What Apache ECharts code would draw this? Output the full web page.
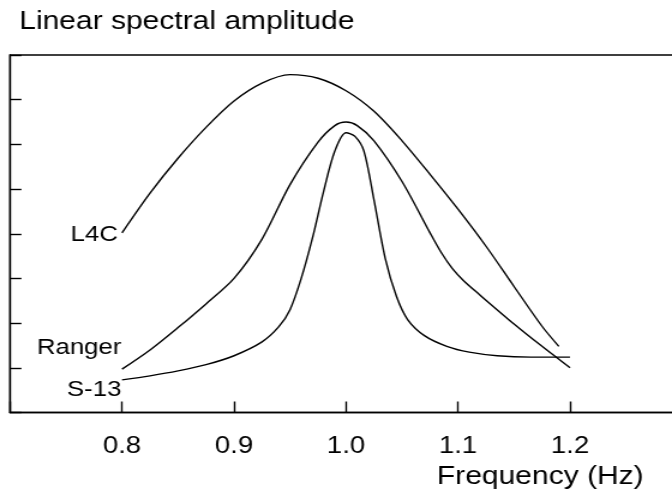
<!DOCTYPE html>
<html><head><meta charset="utf-8">
<script src="https://cdn.jsdelivr.net/npm/echarts@6/dist/echarts.min.js"></script>
<style>
html,body{margin:0;padding:0;background:#fff;overflow:hidden}
#wrap{width:672px;height:499px;overflow:hidden}
#c{width:560px;height:499px;transform:scaleX(1.2);transform-origin:0 0}
</style>
</head><body><div id="wrap"><div id="c"></div></div>
<script>
const xTicks = [0.7, 0.8, 0.9, 1.0, 1.1, 1.2, 1.3];
const seriesNames = ['L4C', 'Ranger', 'S-13'];
const l4cX = [0.800, 0.825, 0.850, 0.875, 0.900, 0.925, 0.950, 0.975, 1.000, 1.025, 1.050, 1.075, 1.100, 1.125, 1.150, 1.175, 1.190];
const l4cY = [4.02, 4.91, 5.69, 6.38, 6.97, 7.37, 7.56, 7.48, 7.20, 6.74, 6.08, 5.33, 4.55, 3.72, 2.82, 1.93, 1.48];
const rangerX = [0.800, 0.825, 0.850, 0.875, 0.900, 0.925, 0.950, 0.975, 0.990, 1.000, 1.010, 1.025, 1.050, 1.075, 1.085, 1.095, 1.105, 1.120, 1.150, 1.175, 1.200];
const rangerY = [0.97, 1.40, 1.90, 2.43, 3.00, 3.88, 5.10, 6.05, 6.42, 6.50, 6.42, 6.08, 5.17, 4.02, 3.58, 3.22, 2.95, 2.62, 1.98, 1.48, 1.00];
const s13X = [0.800, 0.825, 0.850, 0.875, 0.900, 0.925, 0.940, 0.950, 0.960, 0.970, 0.980, 0.990, 1.000, 1.008, 1.016, 1.025, 1.035, 1.045, 1.055, 1.070, 1.090, 1.110, 1.135, 1.165, 1.200];
const s13Y = [0.73, 0.82, 0.93, 1.07, 1.27, 1.58, 1.92, 2.30, 3.00, 3.90, 4.95, 5.85, 6.26, 6.18, 5.85, 4.75, 3.45, 2.60, 2.08, 1.72, 1.48, 1.35, 1.27, 1.24, 1.24];

const FONT = '"Liberation Sans", Arial, Helvetica, sans-serif';
function pts(xs, ys, name, offset, dist) {
  return xs.map((x, i) => {
    if (i === 0) return {value: [x, ys[i]], label: {show: true, position: 'left', distance: dist, offset: offset, formatter: name, color: '#000', fontSize: 21.5, fontFamily: FONT}};
    return [x, ys[i]];
  });
}
const chart = echarts.init(document.getElementById('c'));
const lineSeries = (name, data) => ({
  name: name, type: 'line', data: data, smooth: 0.3,
  showSymbol: true, showAllSymbol: true, symbol: 'circle', symbolSize: 1,
  itemStyle: {color: 'rgba(0,0,0,0)'},
  label: {show: false},
  lineStyle: {color: '#000', width: 1.4}, silent: true, emphasis: {disabled: true}, animation: false
});
chart.setOption({
  animation: false,
  title: {text: 'Linear spectral amplitude', left: 11, top: 5, textStyle: {color: '#000', fontWeight: 'normal', fontSize: 25, fontFamily: FONT}},
  grid: {left: 8.33, top: 55, right: -8.33, height: 357.5, show: true, borderColor: '#000', borderWidth: 1.4,
    containLabel: false, outerBoundsMode: 'none'},
  xAxis: {
    type: 'value', min: xTicks[0], max: xTicks[xTicks.length - 1], interval: 0.1,
    axisLine: {show: true, lineStyle: {color: '#000', width: 1.4}},
    axisTick: {show: true, inside: true, length: 11, lineStyle: {color: '#000', width: 1.4}},
    splitLine: {show: false},
    axisLabel: {color: '#000', fontSize: 23, fontFamily: FONT, margin: 23,
      formatter: v => (v > xTicks[0] + 0.05 && v < xTicks[xTicks.length - 1] - 0.05) ? v.toFixed(1) : ''},
    name: 'Frequency (Hz)', nameLocation: 'end', nameGap: -32,
    nameTextStyle: {color: '#000', fontSize: 25, fontFamily: FONT, align: 'right', verticalAlign: 'top', padding: [52, 0, 0, 0]}
  },
  yAxis: {
    type: 'value', min: 0, max: 8, interval: 1,
    axisLine: {show: true, lineStyle: {color: '#000', width: 1.4}},
    axisTick: {show: true, inside: true, length: 9.5, lineStyle: {color: '#000', width: 1.4}},
    splitLine: {show: false},
    axisLabel: {show: false}
  },
  series: [
    lineSeries(seriesNames[0], pts(l4cX, l4cY, seriesNames[0], [0, 2], 3)),
    lineSeries(seriesNames[1], pts(rangerX, rangerY, seriesNames[1], [0, -21], 0)),
    lineSeries(seriesNames[2], pts(s13X, s13Y, seriesNames[2], [0, 10], 0))
  ]
});
</script></body></html>
